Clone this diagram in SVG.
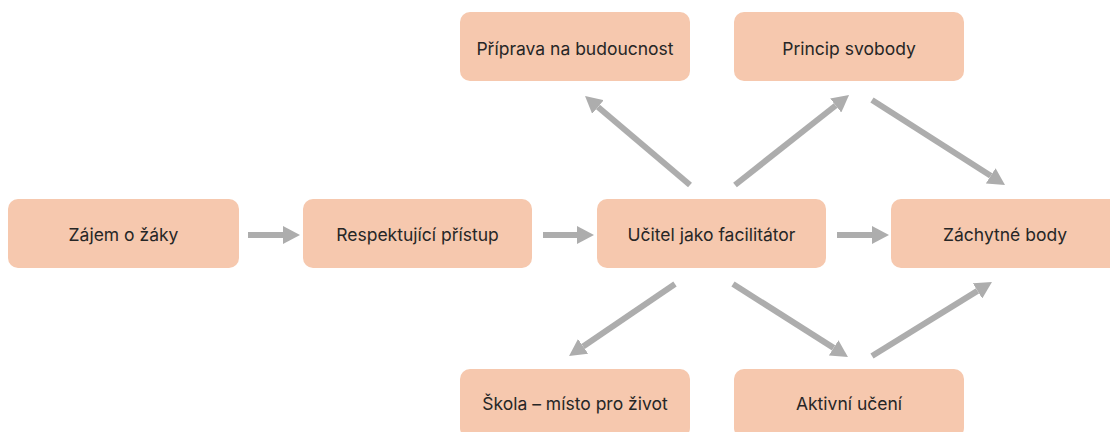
<svg xmlns="http://www.w3.org/2000/svg" width="1110" height="432" viewBox="0 0 1110 432">
<style>
.box{fill:#F6C8AE;}
.lbl{font-family:Inter,"Noto Sans","DejaVu Sans",sans-serif;font-size:17.5px;fill:#262626;text-anchor:middle;dominant-baseline:central;}
.arr{stroke:#ADADAD;stroke-width:6;fill:none;marker-end:url(#ah);}
</style>
<defs>
<marker id="ah" markerUnits="userSpaceOnUse" markerWidth="17" markerHeight="18" viewBox="0 0 17 18" refX="0" refY="9" orient="auto">
<path d="M0,0 L17,9 L0,18 z" fill="#ADADAD"/>
</marker>
</defs>
<rect width="1110" height="432" fill="#FFFFFF"/>
<g id="connectors">
<line class="arr" x1="248" y1="235" x2="283" y2="235"/>
<line class="arr" x1="543" y1="235" x2="577" y2="235"/>
<line class="arr" x1="837" y1="235" x2="872" y2="235"/>
<line class="arr" x1="690" y1="185" x2="598" y2="107"/>
<line class="arr" x1="735" y1="185" x2="835.7" y2="105.5"/>
<line class="arr" x1="872" y1="100" x2="990.7" y2="175.8"/>
<line class="arr" x1="675" y1="284" x2="583.1" y2="346.4"/>
<line class="arr" x1="733" y1="284" x2="833.6" y2="347.9"/>
<line class="arr" x1="872" y1="356" x2="977.5" y2="290.9"/>
</g>
<g id="zajem"><rect class="box" x="8" y="199" width="231" height="69" rx="10"/><text class="lbl" x="123.5" y="234.5">Zájem o žáky</text></g>
<g id="respekt"><rect class="box" x="303" y="199" width="229" height="69" rx="10"/><text class="lbl" x="417.5" y="234.5">Respektující přístup</text></g>
<g id="ucitel"><rect class="box" x="597" y="199" width="229" height="69" rx="10"/><text class="lbl" x="711.5" y="234.5">Učitel jako facilitátor</text></g>
<g id="zachytne"><rect class="box" x="891" y="199" width="230" height="69" rx="10"/><text class="lbl" x="1005" y="234.5">Záchytné body</text></g>
<g id="priprava"><rect class="box" x="460" y="12" width="230" height="69" rx="10"/><text class="lbl" x="575" y="48.5">Příprava na budoucnost</text></g>
<g id="princip"><rect class="box" x="734" y="12" width="230" height="69" rx="10"/><text class="lbl" x="849" y="48.5">Princip svobody</text></g>
<g id="skola"><rect class="box" x="460" y="369" width="230" height="69" rx="10"/><text class="lbl" x="575" y="403">Škola – místo pro život</text></g>
<g id="aktivni"><rect class="box" x="734" y="369" width="230" height="69" rx="10"/><text class="lbl" x="849" y="403">Aktivní učení</text></g>
</svg>
